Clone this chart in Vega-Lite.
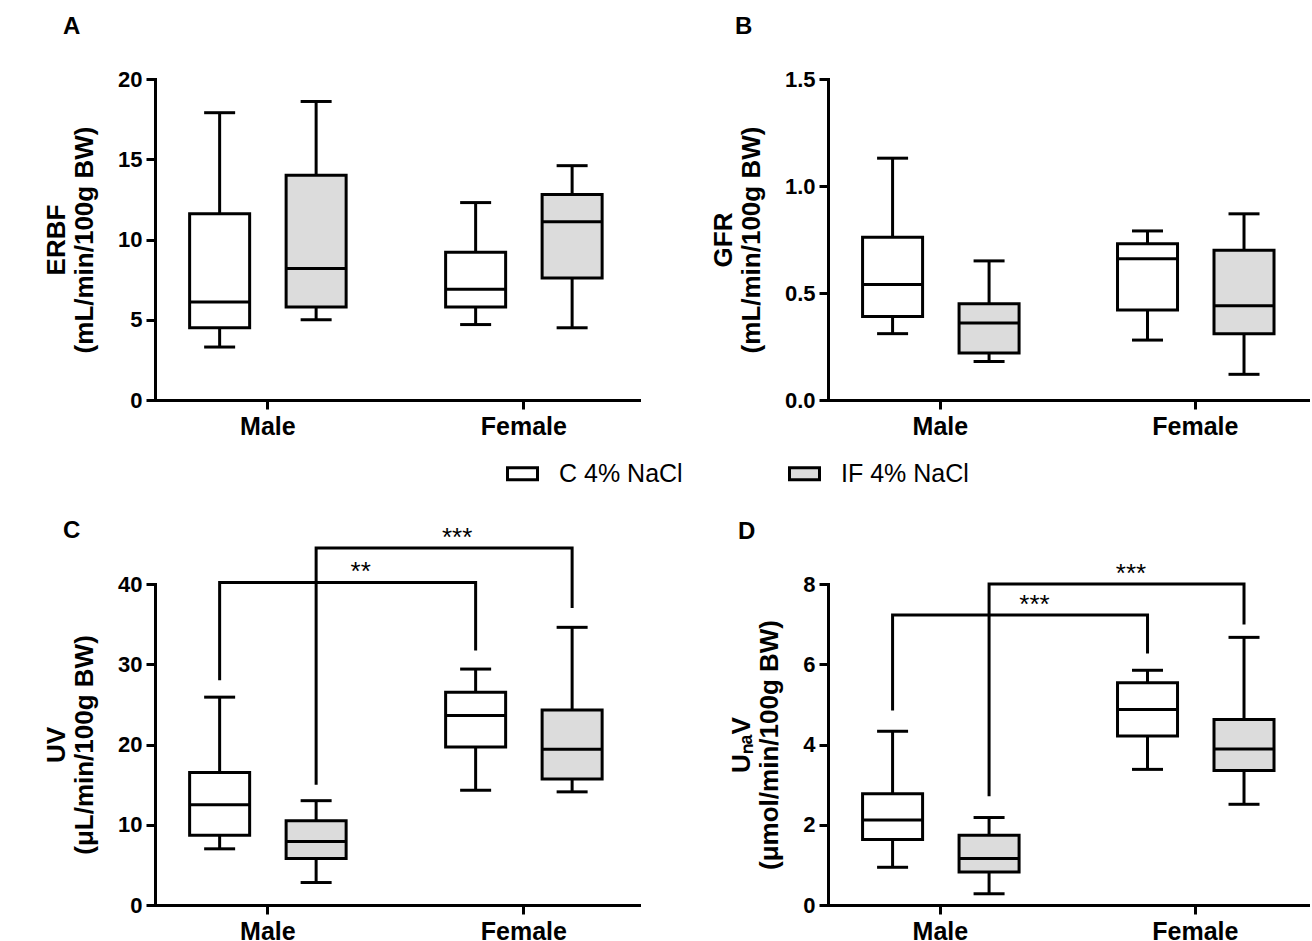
{
  "$schema": "https://vega.github.io/schema/vega-lite/v6.json",
  "background": "white",
  "padding": {"left": 43, "top": 15, "right": 0, "bottom": 0},
  "bounds": "flush",
  "columns": 2,
  "spacing": {"row": 184, "column": 189},
  "resolve": {"scale": {"fill": "shared", "x": "independent", "y": "independent"}, "legend": {"fill": "shared"}},
  "datasets": {
    "A": [
      {"sex": "Male", "grp": "C 4% NaCl", "min": 3.3, "q1": 4.5, "median": 6.1, "q3": 11.6, "max": 17.9},
      {"sex": "Male", "grp": "IF 4% NaCl", "min": 5.0, "q1": 5.8, "median": 8.2, "q3": 14.0, "max": 18.6},
      {"sex": "Female", "grp": "C 4% NaCl", "min": 4.7, "q1": 5.8, "median": 6.9, "q3": 9.2, "max": 12.3},
      {"sex": "Female", "grp": "IF 4% NaCl", "min": 4.5, "q1": 7.6, "median": 11.1, "q3": 12.8, "max": 14.6}
    ],
    "B": [
      {"sex": "Male", "grp": "C 4% NaCl", "min": 0.31, "q1": 0.39, "median": 0.54, "q3": 0.76, "max": 1.13},
      {"sex": "Male", "grp": "IF 4% NaCl", "min": 0.18, "q1": 0.22, "median": 0.36, "q3": 0.45, "max": 0.65},
      {"sex": "Female", "grp": "C 4% NaCl", "min": 0.28, "q1": 0.42, "median": 0.66, "q3": 0.73, "max": 0.79},
      {"sex": "Female", "grp": "IF 4% NaCl", "min": 0.12, "q1": 0.31, "median": 0.44, "q3": 0.70, "max": 0.87}
    ],
    "C": [
      {"sex": "Male", "grp": "C 4% NaCl", "min": 7.0, "q1": 8.7, "median": 12.5, "q3": 16.5, "max": 25.9},
      {"sex": "Male", "grp": "IF 4% NaCl", "min": 2.8, "q1": 5.8, "median": 7.9, "q3": 10.5, "max": 13.0},
      {"sex": "Female", "grp": "C 4% NaCl", "min": 14.3, "q1": 19.7, "median": 23.6, "q3": 26.5, "max": 29.4},
      {"sex": "Female", "grp": "IF 4% NaCl", "min": 14.1, "q1": 15.7, "median": 19.4, "q3": 24.3, "max": 34.6}
    ],
    "D": [
      {"sex": "Male", "grp": "C 4% NaCl", "min": 0.94, "q1": 1.63, "median": 2.12, "q3": 2.77, "max": 4.33},
      {"sex": "Male", "grp": "IF 4% NaCl", "min": 0.28, "q1": 0.82, "median": 1.16, "q3": 1.74, "max": 2.18},
      {"sex": "Female", "grp": "C 4% NaCl", "min": 3.38, "q1": 4.21, "median": 4.87, "q3": 5.54, "max": 5.85},
      {"sex": "Female", "grp": "IF 4% NaCl", "min": 2.51, "q1": 3.35, "median": 3.89, "q3": 4.62, "max": 6.67}
    ],
    "Cbr": [
      {"id": "b1", "ord": 1, "sex": "Male", "grp": "C 4% NaCl", "v": 28.0},
      {"id": "b1", "ord": 2, "sex": "Male", "grp": "C 4% NaCl", "v": 40.2},
      {"id": "b1", "ord": 3, "sex": "Female", "grp": "C 4% NaCl", "v": 40.2},
      {"id": "b1", "ord": 4, "sex": "Female", "grp": "C 4% NaCl", "v": 31.7},
      {"id": "b2", "ord": 1, "sex": "Male", "grp": "IF 4% NaCl", "v": 15.0},
      {"id": "b2", "ord": 2, "sex": "Male", "grp": "IF 4% NaCl", "v": 44.5},
      {"id": "b2", "ord": 3, "sex": "Female", "grp": "IF 4% NaCl", "v": 44.5},
      {"id": "b2", "ord": 4, "sex": "Female", "grp": "IF 4% NaCl", "v": 37.0}
    ],
    "Dbr": [
      {"id": "b1", "ord": 1, "sex": "Male", "grp": "C 4% NaCl", "v": 4.85},
      {"id": "b1", "ord": 2, "sex": "Male", "grp": "C 4% NaCl", "v": 7.23},
      {"id": "b1", "ord": 3, "sex": "Female", "grp": "C 4% NaCl", "v": 7.23},
      {"id": "b1", "ord": 4, "sex": "Female", "grp": "C 4% NaCl", "v": 6.27},
      {"id": "b2", "ord": 1, "sex": "Male", "grp": "IF 4% NaCl", "v": 2.71},
      {"id": "b2", "ord": 2, "sex": "Male", "grp": "IF 4% NaCl", "v": 8.0},
      {"id": "b2", "ord": 3, "sex": "Female", "grp": "IF 4% NaCl", "v": 8.0},
      {"id": "b2", "ord": 4, "sex": "Female", "grp": "IF 4% NaCl", "v": 6.99}
    ],
    "Cstar": [
      {"sex": "Female", "grp": "C 4% NaCl", "v": 40.2, "label": "**"},
      {"sex": "Female", "grp": "IF 4% NaCl", "v": 44.5, "label": "***"}
    ],
    "Dstar": [
      {"sex": "Female", "grp": "C 4% NaCl", "v": 7.23, "label": "***"},
      {"sex": "Female", "grp": "IF 4% NaCl", "v": 8.0, "label": "***"}
    ]
  },
  "config": {
    "view": {"stroke": null},
    "font": "Liberation Sans",
    "tick": {"opacity": 1},
    "axis": {
      "domainColor": "black", "domainWidth": 3, "domainCap": "square",
      "tickColor": "black", "tickWidth": 3, "tickSize": 9,
      "labelColor": "black", "labelFont": "Liberation Sans", "labelFontWeight": "bold",
      "titleColor": "black", "titleFont": "Liberation Sans", "titleFontWeight": "bold",
      "grid": false
    },
    "axisX": {"labelFontSize": 25, "labelAngle": 0, "labelPadding": 5, "title": null},
    "axisY": {"labelFontSize": 22, "labelPadding": 4, "titleFontSize": 26, "titlePadding": 20, "titleLineHeight": 28},
    "title": {"font": "Liberation Sans", "fontSize": 24, "fontWeight": "bold", "color": "black", "anchor": "start", "frame": "group", "baseline": "alphabetic"},
    "legend": {
      "orient": "none", "legendX": 351, "legendY": 378, "direction": "horizontal", "columns": 2,
      "title": null, "symbolType": "M-1,-0.4H1V0.4H-1Z", "symbolSize": 900,
      "symbolStrokeColor": "black", "symbolStrokeWidth": 3,
      "labelFont": "Liberation Sans", "labelFontSize": 25, "labelColor": "black", "labelOffset": 20,
      "columnPadding": 100, "padding": 0
    }
  },
  "concat": [
    {
      "width": 484, "height": 321,
      "title": {"text": "A", "dx": -92, "offset": 29},
      "data": {"name": "A"},
      "encoding": {
        "x": {"field": "sex", "type": "nominal", "sort": ["Male", "Female"], "scale": {"domain": ["Male", "Female"], "paddingInner": 0.21875, "paddingOuter": 0.0547, "align": 0.46}, "axis": {"title": null}}
      },
      "layer": [
        {"mark": {"type": "rule", "color": "black", "strokeWidth": 3},
         "encoding": {
           "xOffset": {"field": "grp", "type": "nominal", "scale": {"domain": ["C 4% NaCl", "IF 4% NaCl"], "paddingInner": 0.378, "paddingOuter": 0.2254}},
           "y": {"field": "min", "type": "quantitative", "scale": {"domain": [0, 20], "nice": false}, "axis": {"values": [0, 5, 10, 15, 20], "title": ["ERBF", "(mL/min/100g BW)"]}},
           "y2": {"field": "max"}}},
        {"mark": {"type": "bar", "stroke": "black", "strokeWidth": 3, "opacity": 1},
         "encoding": {
           "xOffset": {"field": "grp", "type": "nominal"},
           "y": {"field": "q1", "type": "quantitative", "axis": {"values": [0, 5, 10, 15, 20], "title": ["ERBF", "(mL/min/100g BW)"]}},
           "y2": {"field": "q3"},
           "fill": {"field": "grp", "type": "nominal", "scale": {"domain": ["C 4% NaCl", "IF 4% NaCl"], "range": ["#ffffff", "#dcdcdc"]}}}},
        {"mark": {"type": "tick", "color": "black", "thickness": 3, "size": 60, "opacity": 1},
         "encoding": {"xOffset": {"field": "grp", "type": "nominal"}, "y": {"field": "median", "type": "quantitative", "axis": {"values": [0, 5, 10, 15, 20], "title": ["ERBF", "(mL/min/100g BW)"]}}}},
        {"mark": {"type": "tick", "color": "black", "thickness": 3, "size": 31, "opacity": 1},
         "encoding": {"xOffset": {"field": "grp", "type": "nominal"}, "y": {"field": "min", "type": "quantitative", "axis": {"values": [0, 5, 10, 15, 20], "title": ["ERBF", "(mL/min/100g BW)"]}}}},
        {"mark": {"type": "tick", "color": "black", "thickness": 3, "size": 31, "opacity": 1},
         "encoding": {"xOffset": {"field": "grp", "type": "nominal"}, "y": {"field": "max", "type": "quantitative", "axis": {"values": [0, 5, 10, 15, 20], "title": ["ERBF", "(mL/min/100g BW)"]}}}}
      ]
    },
    {
      "width": 482, "height": 321,
      "title": {"text": "B", "dx": -93, "offset": 29},
      "data": {"name": "B"},
      "encoding": {
        "x": {"field": "sex", "type": "nominal", "sort": ["Male", "Female"], "scale": {"domain": ["Male", "Female"], "paddingInner": 0.21875, "paddingOuter": 0.0547, "align": 0.46}, "axis": {"title": null}}
      },
      "layer": [
        {"mark": {"type": "rule", "color": "black", "strokeWidth": 3},
         "encoding": {
           "xOffset": {"field": "grp", "type": "nominal", "scale": {"domain": ["C 4% NaCl", "IF 4% NaCl"], "paddingInner": 0.378, "paddingOuter": 0.2254}},
           "y": {"field": "min", "type": "quantitative", "scale": {"domain": [0, 1.5], "nice": false}, "axis": {"values": [0, 0.5, 1.0, 1.5], "format": ".1f", "title": ["GFR", "(mL/min/100g BW)"]}},
           "y2": {"field": "max"}}},
        {"mark": {"type": "bar", "stroke": "black", "strokeWidth": 3, "opacity": 1},
         "encoding": {
           "xOffset": {"field": "grp", "type": "nominal"},
           "y": {"field": "q1", "type": "quantitative", "axis": {"values": [0, 0.5, 1.0, 1.5], "format": ".1f", "title": ["GFR", "(mL/min/100g BW)"]}},
           "y2": {"field": "q3"},
           "fill": {"field": "grp", "type": "nominal", "scale": {"domain": ["C 4% NaCl", "IF 4% NaCl"], "range": ["#ffffff", "#dcdcdc"]}}}},
        {"mark": {"type": "tick", "color": "black", "thickness": 3, "size": 60, "opacity": 1},
         "encoding": {"xOffset": {"field": "grp", "type": "nominal"}, "y": {"field": "median", "type": "quantitative", "axis": {"values": [0, 0.5, 1.0, 1.5], "format": ".1f", "title": ["GFR", "(mL/min/100g BW)"]}}}},
        {"mark": {"type": "tick", "color": "black", "thickness": 3, "size": 31, "opacity": 1},
         "encoding": {"xOffset": {"field": "grp", "type": "nominal"}, "y": {"field": "min", "type": "quantitative", "axis": {"values": [0, 0.5, 1.0, 1.5], "format": ".1f", "title": ["GFR", "(mL/min/100g BW)"]}}}},
        {"mark": {"type": "tick", "color": "black", "thickness": 3, "size": 31, "opacity": 1},
         "encoding": {"xOffset": {"field": "grp", "type": "nominal"}, "y": {"field": "max", "type": "quantitative", "axis": {"values": [0, 0.5, 1.0, 1.5], "format": ".1f", "title": ["GFR", "(mL/min/100g BW)"]}}}}
      ]
    },
    {
      "width": 484, "height": 321,
      "title": {"text": "C", "dx": -92, "offset": -18},
      "encoding": {
        "x": {"field": "sex", "type": "nominal", "sort": ["Male", "Female"], "scale": {"domain": ["Male", "Female"], "paddingInner": 0.21875, "paddingOuter": 0.0547, "align": 0.46}, "axis": {"title": null}}
      },
      "layer": [
        {"data": {"name": "C"}, "mark": {"type": "rule", "color": "black", "strokeWidth": 3},
         "encoding": {
           "xOffset": {"field": "grp", "type": "nominal", "scale": {"domain": ["C 4% NaCl", "IF 4% NaCl"], "paddingInner": 0.378, "paddingOuter": 0.2254}},
           "y": {"field": "min", "type": "quantitative", "scale": {"domain": [0, 40], "nice": false}, "axis": {"values": [0, 10, 20, 30, 40], "title": ["UV", "(μL/min/100g BW)"]}},
           "y2": {"field": "max"}}},
        {"data": {"name": "C"}, "mark": {"type": "bar", "stroke": "black", "strokeWidth": 3, "opacity": 1},
         "encoding": {
           "xOffset": {"field": "grp", "type": "nominal"},
           "y": {"field": "q1", "type": "quantitative", "axis": {"values": [0, 10, 20, 30, 40], "title": ["UV", "(μL/min/100g BW)"]}},
           "y2": {"field": "q3"},
           "fill": {"field": "grp", "type": "nominal", "scale": {"domain": ["C 4% NaCl", "IF 4% NaCl"], "range": ["#ffffff", "#dcdcdc"]}}}},
        {"data": {"name": "C"}, "mark": {"type": "tick", "color": "black", "thickness": 3, "size": 60, "opacity": 1},
         "encoding": {"xOffset": {"field": "grp", "type": "nominal"}, "y": {"field": "median", "type": "quantitative", "axis": {"values": [0, 10, 20, 30, 40], "title": ["UV", "(μL/min/100g BW)"]}}}},
        {"data": {"name": "C"}, "mark": {"type": "tick", "color": "black", "thickness": 3, "size": 31, "opacity": 1},
         "encoding": {"xOffset": {"field": "grp", "type": "nominal"}, "y": {"field": "min", "type": "quantitative", "axis": {"values": [0, 10, 20, 30, 40], "title": ["UV", "(μL/min/100g BW)"]}}}},
        {"data": {"name": "C"}, "mark": {"type": "tick", "color": "black", "thickness": 3, "size": 31, "opacity": 1},
         "encoding": {"xOffset": {"field": "grp", "type": "nominal"}, "y": {"field": "max", "type": "quantitative", "axis": {"values": [0, 10, 20, 30, 40], "title": ["UV", "(μL/min/100g BW)"]}}}},
        {"data": {"name": "Cbr"}, "mark": {"type": "line", "color": "black", "strokeWidth": 3, "strokeJoin": "miter"},
         "encoding": {"xOffset": {"field": "grp", "type": "nominal"}, "y": {"field": "v", "type": "quantitative", "axis": {"values": [0, 10, 20, 30, 40], "title": ["UV", "(μL/min/100g BW)"]}}, "detail": {"field": "id"}, "order": {"field": "ord", "type": "quantitative"}}},
        {"data": {"name": "Cstar"}, "mark": {"type": "text", "font": "Liberation Sans", "fontSize": 26, "color": "black", "baseline": "alphabetic", "dx": -115, "dy": -2},
         "encoding": {"xOffset": {"field": "grp", "type": "nominal"}, "y": {"field": "v", "type": "quantitative", "axis": {"values": [0, 10, 20, 30, 40], "title": ["UV", "(μL/min/100g BW)"]}}, "text": {"field": "label"}}}
      ]
    },
    {
      "width": 482, "height": 321,
      "title": {"text": "D", "dx": -90, "offset": 17},
      "encoding": {
        "x": {"field": "sex", "type": "nominal", "sort": ["Male", "Female"], "scale": {"domain": ["Male", "Female"], "paddingInner": 0.21875, "paddingOuter": 0.0547, "align": 0.46}, "axis": {"title": null}}
      },
      "layer": [
        {"data": {"name": "D"}, "mark": {"type": "rule", "color": "black", "strokeWidth": 3},
         "encoding": {
           "xOffset": {"field": "grp", "type": "nominal", "scale": {"domain": ["C 4% NaCl", "IF 4% NaCl"], "paddingInner": 0.378, "paddingOuter": 0.2254}},
           "y": {"field": "min", "type": "quantitative", "scale": {"domain": [0, 8], "nice": false}, "axis": {"values": [0, 2, 4, 6, 8], "title": ["UₙₐV", "(μmol/min/100g BW)"]}},
           "y2": {"field": "max"}}},
        {"data": {"name": "D"}, "mark": {"type": "bar", "stroke": "black", "strokeWidth": 3, "opacity": 1},
         "encoding": {
           "xOffset": {"field": "grp", "type": "nominal"},
           "y": {"field": "q1", "type": "quantitative", "axis": {"values": [0, 2, 4, 6, 8], "title": ["UₙₐV", "(μmol/min/100g BW)"]}},
           "y2": {"field": "q3"},
           "fill": {"field": "grp", "type": "nominal", "scale": {"domain": ["C 4% NaCl", "IF 4% NaCl"], "range": ["#ffffff", "#dcdcdc"]}}}},
        {"data": {"name": "D"}, "mark": {"type": "tick", "color": "black", "thickness": 3, "size": 60, "opacity": 1},
         "encoding": {"xOffset": {"field": "grp", "type": "nominal"}, "y": {"field": "median", "type": "quantitative", "axis": {"values": [0, 2, 4, 6, 8], "title": ["UₙₐV", "(μmol/min/100g BW)"]}}}},
        {"data": {"name": "D"}, "mark": {"type": "tick", "color": "black", "thickness": 3, "size": 31, "opacity": 1},
         "encoding": {"xOffset": {"field": "grp", "type": "nominal"}, "y": {"field": "min", "type": "quantitative", "axis": {"values": [0, 2, 4, 6, 8], "title": ["UₙₐV", "(μmol/min/100g BW)"]}}}},
        {"data": {"name": "D"}, "mark": {"type": "tick", "color": "black", "thickness": 3, "size": 31, "opacity": 1},
         "encoding": {"xOffset": {"field": "grp", "type": "nominal"}, "y": {"field": "max", "type": "quantitative", "axis": {"values": [0, 2, 4, 6, 8], "title": ["UₙₐV", "(μmol/min/100g BW)"]}}}},
        {"data": {"name": "Dbr"}, "mark": {"type": "line", "color": "black", "strokeWidth": 3, "strokeJoin": "miter"},
         "encoding": {"xOffset": {"field": "grp", "type": "nominal"}, "y": {"field": "v", "type": "quantitative", "axis": {"values": [0, 2, 4, 6, 8], "title": ["UₙₐV", "(μmol/min/100g BW)"]}}, "detail": {"field": "id"}, "order": {"field": "ord", "type": "quantitative"}}},
        {"data": {"name": "Dstar"}, "mark": {"type": "text", "font": "Liberation Sans", "fontSize": 26, "color": "black", "baseline": "alphabetic", "dx": -113, "dy": -2},
         "encoding": {"xOffset": {"field": "grp", "type": "nominal"}, "y": {"field": "v", "type": "quantitative", "axis": {"values": [0, 2, 4, 6, 8], "title": ["UₙₐV", "(μmol/min/100g BW)"]}}, "text": {"field": "label"}}}
      ]
    }
  ]
}
